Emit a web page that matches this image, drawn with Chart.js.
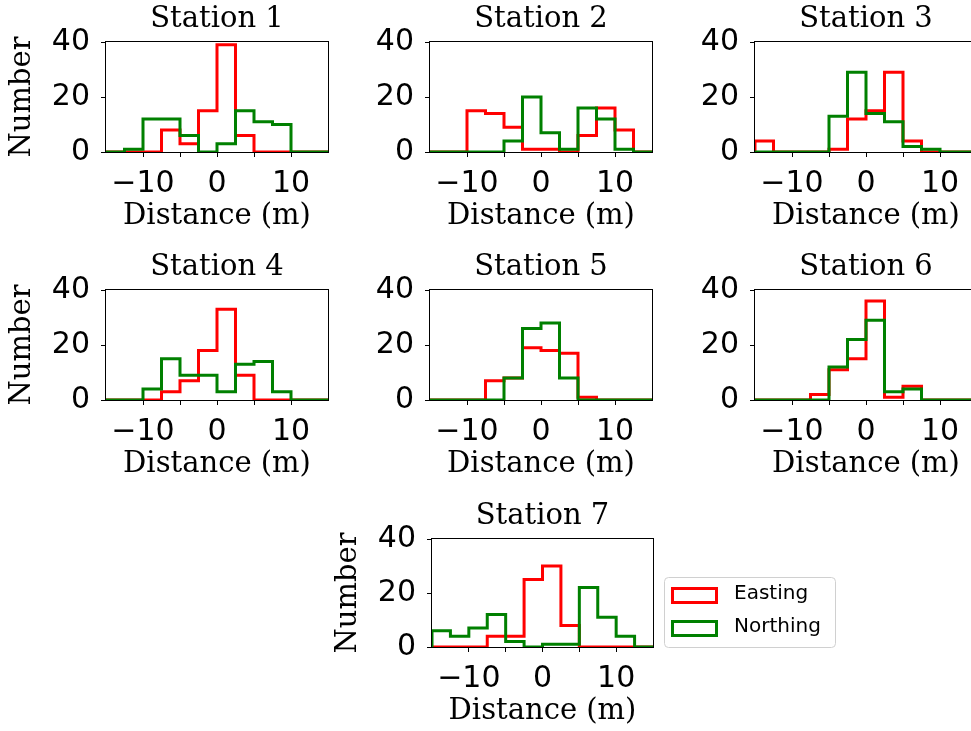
<!DOCTYPE html>
<html>
<head>
<meta charset="utf-8">
<title>Easting / Northing histograms per station</title>
<script src="https://cdn.jsdelivr.net/npm/chart.js@4.4.1/dist/chart.umd.min.js"></script>
<style>
  html, body { margin: 0; padding: 0; background: #fff; overflow: hidden; }
  #fig { position: relative; width: 971px; height: 731px; overflow: hidden; }
  #fig canvas { position: absolute; }
</style>
</head>
<body>
<div id="fig"></div>
<script>
// bin edges shared by every station (m)
const binEdges = [-15, -12.5, -10, -7.5, -5, -2.5, 0, 2.5, 5, 7.5, 10, 12.5, 15];
const xTickValues = [-10, -5, 0, 5, 10];
const yTickValues = [0, 20, 40];

// counts per bin
const easting1  = [0, 0, 0, 8, 3, 15, 39, 6, 0, 0, 0, 0];
const northing1 = [0, 1, 12, 12, 6, 0, 3, 15, 11, 10, 0, 0];
const easting2  = [0, 0, 15, 14, 9, 1, 1, 0, 6, 16, 8, 0];
const northing2 = [0, 0, 0, 0, 4, 20, 7, 1, 16, 12, 1, 0];
const easting3  = [4, 0, 0, 0, 1, 12, 15, 29, 4, 0, 0, 0];
const northing3 = [0, 0, 0, 0, 13, 29, 14, 11, 2, 1, 0, 0];
const easting4  = [0, 0, 0, 3, 7, 18, 33, 9, 0, 0, 0, 0];
const northing4 = [0, 0, 4, 15, 9, 9, 3, 13, 14, 3, 0, 0];
const easting5  = [0, 0, 0, 7, 8, 19, 18, 17, 1, 0, 0, 0];
const northing5 = [0, 0, 0, 0, 8, 26, 28, 8, 0, 0, 0, 0];
const easting6  = [0, 0, 0, 2, 11, 15, 36, 1, 5, 0, 0, 0];
const northing6 = [0, 0, 0, 0, 12, 22, 29, 3, 4, 0, 0, 0];
const easting7  = [0, 0, 0, 4, 4, 25, 30, 8, 0, 0, 0, 0];
const northing7 = [6, 4, 7, 12, 2, 0, 1, 1, 22, 11, 4, 0];

const seriesNames = ['Easting', 'Northing'];

// panel placement (plot area in page pixels)
const panels = [
  { title: 'Station 1', east: easting1, north: northing1, left: 106, top: 42,  w: 222, h: 110, ylabel: true },
  { title: 'Station 2', east: easting2, north: northing2, left: 430, top: 42,  w: 222, h: 110 },
  { title: 'Station 3', east: easting3, north: northing3, left: 755, top: 42,  w: 222, h: 110 },
  { title: 'Station 4', east: easting4, north: northing4, left: 106, top: 290, w: 222, h: 110, ylabel: true },
  { title: 'Station 5', east: easting5, north: northing5, left: 430, top: 290, w: 222, h: 110 },
  { title: 'Station 6', east: easting6, north: northing6, left: 755, top: 290, w: 222, h: 110 },
  { title: 'Station 7', east: easting7, north: northing7, left: 432, top: 539, w: 221, h: 108, ylabel: true, legend: true }
];

const Y_AXIS_W = 106;
const TITLE_H = 42;
const X_AXIS_H = 83;

Chart.defaults.color = '#000';
Chart.defaults.font.family = "'DejaVu Sans', sans-serif";

// matplotlib-style step outline: start and end on zero
function stepPoints(counts) {
  const last = binEdges[binEdges.length - 1];
  const pts = [{ x: binEdges[0], y: 0 }];
  counts.forEach((c, i) => pts.push({ x: binEdges[i], y: c }));
  pts.push({ x: last, y: counts[counts.length - 1] });
  pts.push({ x: last, y: 0 });
  return pts;
}

/* --- axes box (all four spines) --- */
const frame = {
  id: 'frame',
  beforeDatasetsDraw(chart) {
    const { ctx, chartArea: a } = chart;
    ctx.save();
    ctx.strokeStyle = '#000';
    ctx.lineWidth = 1;
    ctx.strokeRect(a.left - 0.5, a.top - 0.5, a.right - a.left + 1, a.bottom - a.top + 1);
    ctx.restore();
  }
};

/* --- figure legend, drawn beside the last panel --- */
const figLegend = {
  id: 'figLegend',
  afterDraw(chart, args, opts) {
    if (!opts.show) return;
    const { ctx, chartArea: a } = chart;
    const x = a.right + 11, y = a.top + 38, w = 171, h = 70, r = 4;
    ctx.save();
    ctx.beginPath();
    ctx.roundRect(x + 0.5, y + 0.5, w, h, r);
    ctx.fillStyle = 'rgba(255,255,255,0.8)';
    ctx.fill();
    ctx.strokeStyle = '#d0d0d0';
    ctx.lineWidth = 1;
    ctx.stroke();

    ctx.font = "20px 'DejaVu Sans', sans-serif";
    ctx.textBaseline = 'middle';
    ctx.textAlign = 'left';
    chart.data.datasets.forEach((ds, i) => {
      const rowY = y + 10 + i * 33;
      ctx.lineWidth = 3;
      ctx.strokeStyle = ds.borderColor;
      ctx.fillStyle = '#fff';
      ctx.fillRect(x + 8, rowY + 1, 45, 14);
      ctx.strokeRect(x + 8.5, rowY + 1.5, 44, 14);
      ctx.fillStyle = '#000';
      ctx.fillText(ds.label, x + 70, rowY + 7);
    });
    ctx.restore();
  }
};

function makePanel(p) {
  const padRight = p.legend ? 193 : 12;
  const canvas = document.createElement('canvas');
  canvas.width = Y_AXIS_W + p.w + padRight;
  canvas.height = TITLE_H + p.h + X_AXIS_H;
  canvas.style.left = (p.left - Y_AXIS_W) + 'px';
  canvas.style.top = (p.top - TITLE_H) + 'px';
  document.getElementById('fig').appendChild(canvas);

  const serif = { family: "'DejaVu Serif', serif", size: 29, weight: 'normal', lineHeight: 1.2 };
  const sans = { family: "'DejaVu Sans', sans-serif", size: 30, lineHeight: 1.2 };

  return new Chart(canvas, {
    type: 'line',
    data: {
      datasets: [
        {
          label: seriesNames[0],
          data: stepPoints(p.east),
          borderColor: '#ff0000',
          backgroundColor: '#ffffff',
          borderWidth: 3,
          stepped: true,
          pointRadius: 0,
          fill: false,
          borderJoinStyle: 'miter',
          order: 1
        },
        {
          label: seriesNames[1],
          data: stepPoints(p.north),
          borderColor: '#008000',
          backgroundColor: '#ffffff',
          borderWidth: 3,
          stepped: true,
          pointRadius: 0,
          fill: false,
          borderJoinStyle: 'miter',
          order: 0
        }
      ]
    },
    options: {
      responsive: false,
      animation: false,
      events: [],
      layout: { padding: { left: 0, right: padRight, top: 0, bottom: 0 } },
      plugins: {
        legend: { display: false },
        tooltip: { enabled: false },
        title: {
          display: true,
          text: p.title,
          fullSize: false,
          font: serif,
          color: '#000',
          padding: { top: 2.5, bottom: 4.7 }
        },
        figLegend: { show: !!p.legend }
      },
      scales: {
        x: {
          type: 'linear',
          min: binEdges[0],
          max: binEdges[binEdges.length - 1],
          afterBuildTicks: (axis) => { axis.ticks = xTickValues.map(v => ({ value: v })); },
          afterFit: (axis) => { axis.height = X_AXIS_H; },
          border: { display: false },
          grid: { drawOnChartArea: false, drawTicks: true, tickLength: 5, color: '#000', lineWidth: 1 },
          ticks: {
            font: sans,
            padding: 9,
            maxRotation: 0,
            autoSkip: false,
            callback: (v) => (v % 10 === 0 ? (v < 0 ? '\u2212' + Math.abs(v) : String(v)) : '')
          },
          title: { display: true, text: 'Distance (m)', font: serif, padding: { top: 0, bottom: 1 } }
        },
        y: {
          min: 0,
          max: 40,
          afterBuildTicks: (axis) => { axis.ticks = yTickValues.map(v => ({ value: v })); },
          afterFit: (axis) => { axis.width = Y_AXIS_W; },
          border: { display: false },
          grid: { drawOnChartArea: false, drawTicks: true, tickLength: 5, color: '#000', lineWidth: 1 },
          ticks: { font: sans, padding: 11 },
          title: { display: !!p.ylabel, text: 'Number', font: serif, padding: { top: 5, bottom: 0 } }
        }
      }
    },
    plugins: [frame, figLegend]
  });
}

panels.forEach(makePanel);
</script>
</body>
</html>
